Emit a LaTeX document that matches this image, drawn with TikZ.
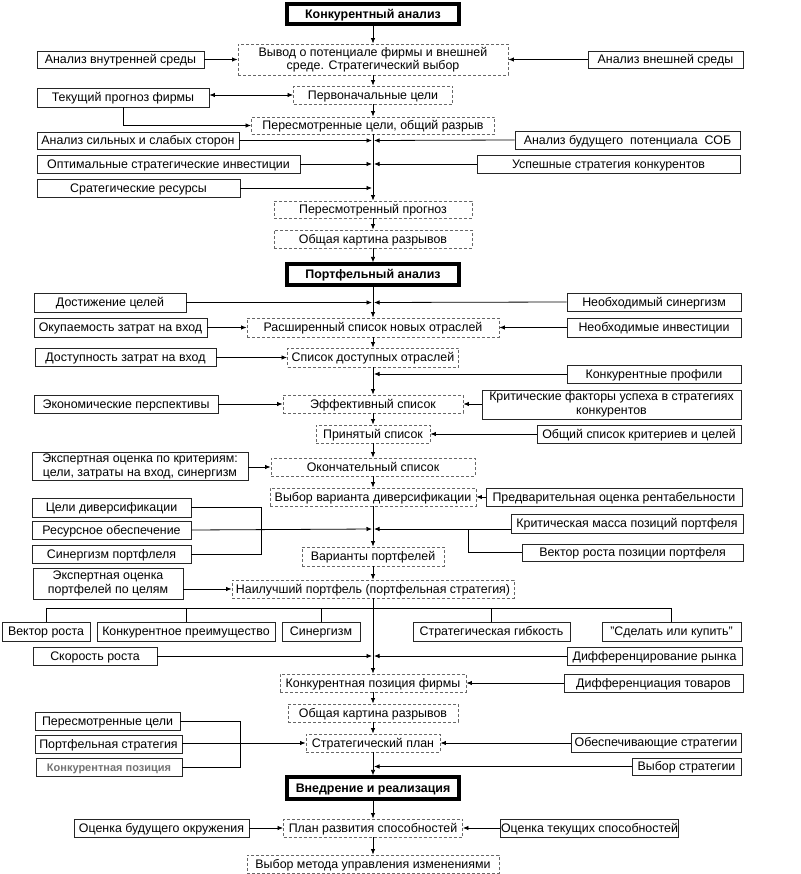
\documentclass[tikz,border=0pt]{standalone}
\usepackage{fontspec}
\setmainfont{Liberation Sans}
\usetikzlibrary{arrows.meta}
\begin{document}
\begin{tikzpicture}[x=1pt,y=-1pt,
  font=\fontsize{12.4}{13.6}\selectfont,
  >={Latex[length=5.5pt,width=4.5pt]},
  line width=0.8pt,
  box/.style={draw=black!85,line width=0.9pt,inner sep=1pt,text height=10.5pt,text depth=2pt},
  dbox/.style={draw=black!60,line width=0.9pt,dash pattern=on 3pt off 2pt,inner sep=1pt,text height=10.5pt,text depth=2pt},
  two/.style={align=center,text height=,text depth=},
  headbox/.style={draw=black,line width=3.2pt,inner sep=1pt,text height=10.5pt,text depth=2pt,font=\fontsize{12.4}{13.6}\selectfont\bfseries},
  sp/.style={->,shorten >=1pt}]
  \useasboundingbox (0,0) rectangle (800,874);
  \node[headbox,minimum width=172,minimum height=20] (t1) at (373,14) {Конкурентный анализ};
  \node[dbox,two,minimum width=270,minimum height=31] (vyv) at (373,59.5) {Вывод о потенциале фирмы и внешней\\среде. Стратегический выбор};
  \node[dbox,minimum width=159,minimum height=18] (perv) at (373,95) {Первоначальные цели};
  \node[dbox,minimum width=243,minimum height=17] (pcel) at (373,125.5) {Пересмотренные цели, общий разрыв};
  \node[dbox,minimum width=198,minimum height=17] (pprog) at (373,209.5) {Пересмотренный прогноз};
  \node[dbox,minimum width=198,minimum height=18] (okr1) at (373,239) {Общая картина разрывов};
  \node[headbox,minimum width=172,minimum height=21] (t2) at (373,274.5) {Портфельный анализ};
  \node[dbox,minimum width=252,minimum height=19] (rasp) at (373,327.5) {Расширенный список новых отраслей};
  \node[dbox,minimum width=171,minimum height=19] (dost) at (373,357.5) {Список доступных отраслей};
  \node[dbox,minimum width=180,minimum height=18] (eff) at (373,404) {Эффективный список};
  \node[dbox,minimum width=114,minimum height=18] (prin) at (373,434) {Принятый список};
  \node[dbox,minimum width=204,minimum height=18] (okon) at (373,467) {Окончательный список};
  \node[dbox,minimum width=206,minimum height=18] (vybv) at (373,497) {Выбор варианта диверсификации};
  \node[dbox,minimum width=142,minimum height=19] (var) at (373,556.5) {Варианты портфелей};
  \node[dbox,minimum width=282,minimum height=18] (nail) at (373,589) {Наилучший портфель (портфельная стратегия)};
  \node[dbox,minimum width=186,minimum height=18] (kpf) at (373,683) {Конкурентная позиция фирмы};
  \node[dbox,minimum width=170,minimum height=18] (okr2) at (373,713) {Общая картина разрывов};
  \node[dbox,minimum width=134,minimum height=18] (splan) at (373,743) {Стратегический план};
  \node[headbox,minimum width=172,minimum height=22] (t3) at (373,788) {Внедрение и реализация};
  \node[dbox,minimum width=179,minimum height=18] (plan) at (373,828) {План развития способностей};
  \node[dbox,minimum width=252,minimum height=18] (metod) at (373,864) {Выбор метода управления изменениями};

  \node[box,minimum width=167,minimum height=17] (ivs) at (120.5,59.5) {Анализ внутренней среды};
  \node[box,minimum width=155,minimum height=17] (vns) at (665.5,59.5) {Анализ внешней среды};
  \node[box,minimum width=172,minimum height=19] (tpf) at (123,97.5) {Текущий прогноз фирмы};
  \node[box,minimum width=202,minimum height=17] (ass) at (138,140.5) {Анализ сильных и слабых сторон};
  \node[box,minimum width=225,minimum height=18] (abp) at (627.5,140) {Анализ будущего~ потенциала~ СОБ};
  \node[box,minimum width=263,minimum height=18] (osi) at (168.5,164) {Оптимальные стратегические инвестиции};
  \node[box,minimum width=263,minimum height=18] (usk) at (608.5,164) {Успешные стратегия конкурентов};
  \node[box,minimum width=203,minimum height=18] (sres) at (138.5,188) {Сратегические ресурсы};
  \node[box,minimum width=152,minimum height=19] (dc) at (110,302.5) {Достижение целей};
  \node[box,minimum width=174,minimum height=18] (nsin) at (654,302) {Необходимый синергизм};
  \node[box,minimum width=173,minimum height=19] (okup) at (120.5,327.5) {Окупаемость затрат на вход};
  \node[box,minimum width=174,minimum height=19] (ninv) at (654,327.5) {Необходимые инвестиции};
  \node[box,minimum width=181,minimum height=18] (dzv) at (125.5,357.5) {Доступность затрат на вход};
  \node[box,minimum width=174,minimum height=18] (kprof) at (654,374) {Конкурентные профили};
  \node[box,minimum width=184,minimum height=18] (ekp) at (126,404) {Экономические перспективы};
  \node[box,two,minimum width=259,minimum height=29] (kfu) at (611.5,404.5) {Критические факторы успеха в стратегиях\\конкурентов};
  \node[box,minimum width=204,minimum height=18] (oskc) at (639,434) {Общий список критериев и целей};
  \node[box,two,minimum width=216,minimum height=28] (eok) at (140,466.5) {Экспертная оценка по критериям:\\цели, затраты на вход, синергизм};
  \node[box,minimum width=256,minimum height=18] (por) at (614,497) {Предварительная оценка рентабельности};
  \node[box,minimum width=159,minimum height=19] (cdiv) at (111.5,507.5) {Цели диверсификации};
  \node[box,minimum width=159,minimum height=18] (rob) at (111.5,530) {Ресурсное обеспечение};
  \node[box,minimum width=159,minimum height=18] (sinp) at (111.5,554) {Синергизм портфлеля};
  \node[box,minimum width=232,minimum height=19] (kmp) at (627,523.5) {Критическая масса позиций портфеля};
  \node[box,minimum width=221,minimum height=17] (vrpp) at (632.5,552.5) {Вектор роста позиции портфеля};
  \node[box,two,minimum width=150,minimum height=31] (eop) at (108,583.5) {Экспертная оценка\\портфелей по целям};
  \node[box,minimum width=88,minimum height=19] (vr) at (46,631.5) {Вектор роста};
  \node[box,minimum width=178,minimum height=19] (kpr) at (186,631.5) {Конкурентное преимущество};
  \node[box,minimum width=78,minimum height=19] (sin) at (321,631.5) {Синергизм};
  \node[box,minimum width=157,minimum height=19] (sg) at (491.5,631.5) {Стратегическая гибкость};
  \node[box,minimum width=139,minimum height=19] (sik) at (671.5,631.5) {"Сделать или купить"};
  \node[box,minimum width=124,minimum height=18] (skr) at (95,656) {Скорость роста};
  \node[box,minimum width=175,minimum height=18] (difr) at (654.5,656) {Дифференцирование рынка};
  \node[box,minimum width=179,minimum height=18] (dift) at (653.5,683) {Дифференциация товаров};
  \node[box,minimum width=145,minimum height=18] (pc) at (107.5,721) {Пересмотренные цели};
  \node[box,minimum width=147,minimum height=18] (ps) at (108.5,744) {Портфельная стратегия};
  \node[box,minimum width=146,minimum height=18,text=black!55,font=\fontsize{11}{12}\selectfont\bfseries] (kpoz) at (109,767) {Конкурентная позиция};
  \node[box,minimum width=170,minimum height=19] (obs) at (656,742.5) {Обеспечивающие стратегии};
  \node[box,minimum width=109,minimum height=17] (vs) at (686.5,766.5) {Выбор стратегии};
  \node[box,minimum width=175,minimum height=18] (obo) at (161.5,828) {Оценка будущего окружения};
  \node[box,minimum width=177,minimum height=18] (ots) at (589.5,828) {Оценка текущих способностей};

  \coordinate (j1) at (373,140.5);
  \coordinate (j2) at (373,164);
  \coordinate (j3) at (373,188);
  \coordinate (j4) at (373,302.5);
  \coordinate (j5) at (373,374);
  \coordinate (j6) at (373,529);
  \coordinate (bus) at (373,608);
  \coordinate (j7) at (373,656);
  \coordinate (j8) at (373,766.5);

  \foreach \a/\b in {t1/vyv,vyv/perv,perv/pcel,pcel/pprog,pprog/okr1,okr1/t2,t2/rasp,rasp/dost,dost/eff,
    eff/prin,prin/okon,okon/vybv,vybv/var,var/nail,nail/kpf,kpf/okr2,okr2/splan,splan/t3,t3/plan,plan/metod}
    \draw[->] (\a.south) -- (\b.north);

  \foreach \a/\b in {ivs/vyv,okup/rasp,dzv/dost,ekp/eff,eok/okon,eop/nail,ps/splan,obo/plan}
    \draw[->] (\a.east |- \b) -- (\b.west);
  \foreach \a/\b in {vns/vyv,ninv/rasp,kfu/eff,oskc/prin,por/vybv,dift/kpf,obs/splan,ots/plan}
    \draw[->] (\a.west |- \b) -- (\b.east);

  \foreach \a/\j in {ass/j1,osi/j2,sres/j3,dc/j4,rob/j6,skr/j7}
    \draw[sp] (\a.east) -- (\j);
  \foreach \a/\j in {abp/j1,usk/j2,nsin/j4,kprof/j5,difr/j7,vs/j8}
    \draw[sp] (\a.west) -- (\j);

  \draw[<->] (tpf.east |- perv) -- (perv.west);
  \draw[->] (tpf.south) |- (pcel.west);

  \draw (cdiv.east) -- (261,507.5) -- (261,554) -- (sinp.east);
  \draw[sp] (kmp.west |- j6) -- (j6);
  \draw (vrpp.west) -| (468,529);

  \draw (vr.north) |- (sik.north |- bus) -- (sik.north);
  \foreach \n in {kpr,sin,sg}
    \draw (\n.north) -- (\n.north |- bus);

  \draw (pc.east) -- (240,721) -- (240,767) -- (kpoz.east);
\end{tikzpicture}
\end{document}
